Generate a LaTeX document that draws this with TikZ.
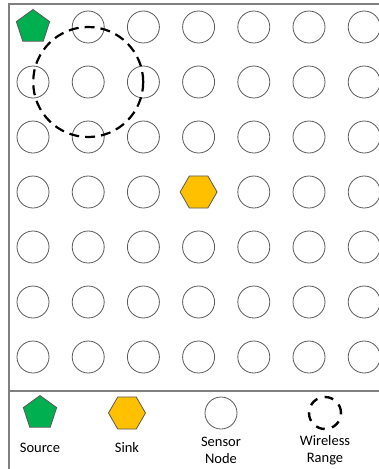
\documentclass[tikz,border=0pt]{standalone}
\usepackage{fontspec}
\setmainfont{Carlito}
\usetikzlibrary{shapes.geometric}
\definecolor{srcgreen}{HTML}{00B050}
\definecolor{sinkorange}{HTML}{FFC000}
\definecolor{edgegray}{HTML}{595959}
\definecolor{framegray}{HTML}{808080}
\tikzset{
  sensor/.style={circle,draw=edgegray,line width=0.8pt,minimum size=32pt,inner sep=0pt},
  source/.style={regular polygon,regular polygon sides=5,draw=edgegray,line width=0.8pt,fill=srcgreen,minimum size=35pt,inner sep=0pt},
  sinknode/.style={regular polygon,regular polygon sides=6,draw=edgegray,line width=0.8pt,fill=sinkorange,minimum size=37pt,inner sep=0pt},
  wrange/.style={circle,draw=black,line width=2.2pt,dash pattern=on 10pt off 6pt,inner sep=0pt},
  legendtext/.style={font=\fontsize{14.5pt}{17pt}\selectfont,align=center,inner sep=0pt},
  frameline/.style={draw=framegray,line width=1.2pt}
}
\begin{document}
\begin{tikzpicture}[x=1pt,y=-1pt]
\useasboundingbox (0,0) rectangle (379,469);
% frame
\draw[frameline] (9,469) -- (9,4) -- (379,4);
\draw[frameline] (9,391) -- (379,391);
% grid
\foreach \c in {0,...,6}{
  \foreach \r in {0,...,6}{
    \pgfmathsetmacro{\xx}{33+55.2*\c}
    \pgfmathsetmacro{\yy}{27+55*\r}
    \ifnum\c=0 \ifnum\r=0
      \node[source] (n-\c-\r) at (\xx,\yy) {};
    \fi\fi
    \ifnum\c=3 \ifnum\r=3
      \node[sinknode] (n-\c-\r) at (\xx,\yy) {};
    \fi\fi
    \pgfmathtruncatemacro{\skipit}{(\c==0 && \r==0) || (\c==3 && \r==3)}
    \ifnum\skipit=0
      \node[sensor] (n-\c-\r) at (\xx,\yy) {};
    \fi
  }
}
% wireless range around node (1,1)
\node[wrange,minimum size=110pt] (rng) at (n-1-1) {};
% legend
\node[source] (lsrc) at (40,413) {};
\node[sinknode] (lsink) at (127,413) {};
\node[sensor] (lsens) at (221,413) {};
\node[wrange,minimum size=32pt,line width=2.4pt,dash pattern=on 9pt off 7.5pt] (lrng) at (325,413) {};
\node[legendtext] (tsrc) at (40,448) {Source};
\node[legendtext] (tsink) at (127,448) {Sink};
\node[legendtext] (tsens) at (221,450.5) {Sensor\\Node};
\node[legendtext] (trng) at (325,450.5) {Wireless\\Range};
\end{tikzpicture}
\end{document}
